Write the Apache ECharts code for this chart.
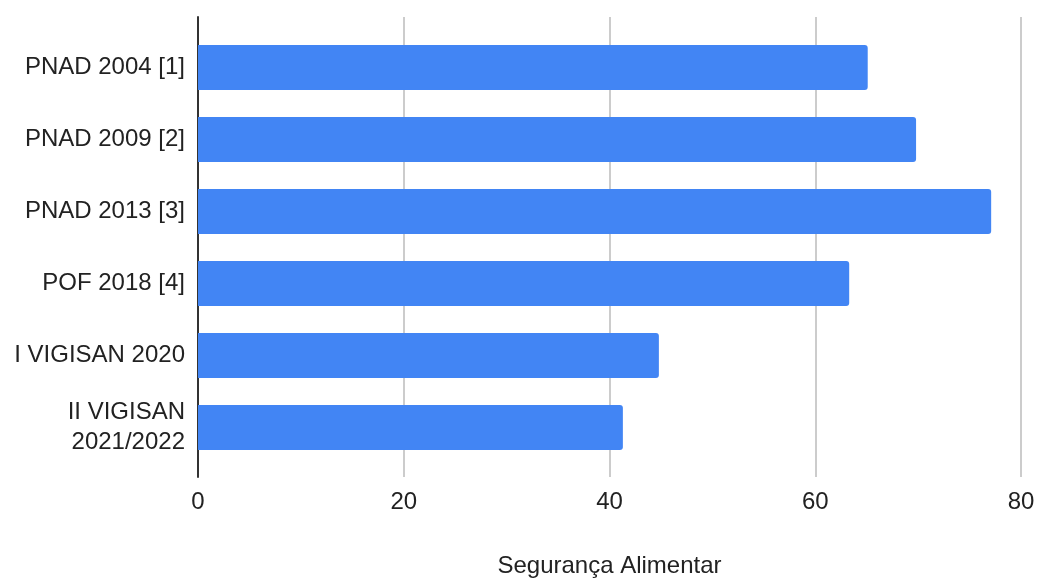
<!DOCTYPE html>
<html><head><meta charset="utf-8">
<script src="https://cdn.jsdelivr.net/npm/echarts@6/dist/echarts.min.js"></script>
<style>html,body{margin:0;padding:0;background:#fff}#c{width:1039px;height:583px}</style>
</head><body><div id="c"></div>
<script>
const categories = ["PNAD 2004 [1]", "PNAD 2009 [2]", "PNAD 2013 [3]", "POF 2018 [4]", "I VIGISAN 2020", "II VIGISAN\n2021/2022"];
const values = [65.1, 69.8, 77.1, 63.3, 44.8, 41.3];
const xTicks = [0, 20, 40, 60, 80];
const axisTitle = "Segurança Alimentar";

const font = "'Liberation Sans', Arial, sans-serif";
const chart = echarts.init(document.getElementById('c'));
chart.setOption({
  animation: false,
  textStyle: { fontFamily: font },
  grid: [
    { left: 198, right: 18, top: 31.5, height: 432, outerBoundsMode: 'none', containLabel: false },
    { left: 198, right: 18, top: 17, height: 460, outerBoundsMode: 'none', containLabel: false }
  ],
  xAxis: [
    { gridIndex: 0, type: 'value', min: xTicks[0], max: xTicks[xTicks.length - 1], interval: 20,
      axisLine: { show: false }, axisTick: { show: false }, axisLabel: { show: false }, splitLine: { show: false } },
    { gridIndex: 1, type: 'value', min: xTicks[0], max: xTicks[xTicks.length - 1], interval: 20,
      axisLine: { show: false }, axisTick: { show: false },
      axisLabel: { show: true, fontSize: 24, color: '#222', margin: 13, fontFamily: font },
      splitLine: { show: true, lineStyle: { color: '#cccccc', width: 2 } },
      name: axisTitle, nameLocation: 'middle', nameGap: 77,
      nameTextStyle: { fontSize: 24, color: '#222', fontFamily: font } }
  ],
  yAxis: [
    { gridIndex: 0, type: 'category', data: categories, inverse: true,
      axisLine: { show: false }, axisTick: { show: false },
      axisLabel: { fontSize: 24, color: '#222', margin: 13, lineHeight: 30, fontFamily: font } },
    { gridIndex: 1, type: 'value', min: 0, max: 1,
      axisLine: { show: true, lineStyle: { color: '#333', width: 2 } },
      axisTick: { show: false }, axisLabel: { show: false }, splitLine: { show: false } }
  ],
  series: [{
    type: 'bar', xAxisIndex: 0, yAxisIndex: 0, data: values, barWidth: 45, z: 3,
    itemStyle: { color: '#4285F4', borderRadius: [0, 3, 3, 0] }
  }]
});
</script></body></html>
